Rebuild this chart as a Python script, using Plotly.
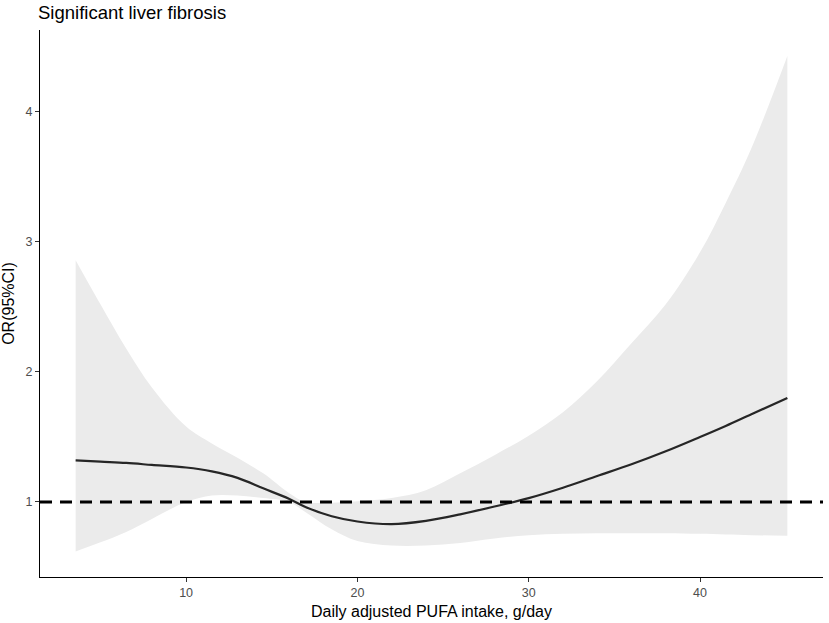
import plotly.graph_objects as go

# values (restricted cubic spline, OR with 95% CI)
pufa = [3.55, 5, 6.5, 8, 10, 11.5, 13, 14.5, 16, 17, 18.5, 20, 22, 24, 26,
        28, 30, 32, 34, 36, 38, 40, 41.5, 43, 45.1]
or_est = [1.32, 1.31, 1.30, 1.285, 1.265, 1.235, 1.185, 1.105, 1.025, 0.96, 0.89,
          0.85, 0.83, 0.855, 0.905, 0.965, 1.03, 1.11, 1.20, 1.29, 1.39, 1.50,
          1.585, 1.675, 1.80]
ci_low = [0.62, 0.69, 0.77, 0.87, 1.00, 1.05, 1.05, 1.03, 1.00, 0.92, 0.79,
          0.70, 0.665, 0.665, 0.685, 0.72, 0.745, 0.755, 0.76, 0.76, 0.76,
          0.755, 0.75, 0.745, 0.74]
ci_high = [2.86, 2.52, 2.18, 1.88, 1.58, 1.45, 1.34, 1.22, 1.07, 1.00, 0.995,
           1.005, 1.03, 1.09, 1.22, 1.36, 1.51, 1.69, 1.93, 2.22, 2.52, 2.92,
           3.30, 3.72, 4.43]

x_ticks = [10, 20, 30, 40]
y_ticks = [1, 2, 3, 4]

fig = go.Figure()

# ribbon
fig.add_trace(go.Scatter(x=pufa, y=ci_low, mode="lines",
                         line=dict(width=0, shape="spline", smoothing=1.0),
                         hoverinfo="skip", showlegend=False))
fig.add_trace(go.Scatter(x=pufa, y=ci_high, mode="lines", fill="tonexty",
                         fillcolor="#EBEBEB",
                         line=dict(width=0, shape="spline", smoothing=1.0),
                         hoverinfo="skip", showlegend=False))
# OR curve
fig.add_trace(go.Scatter(x=pufa, y=or_est, mode="lines",
                         line=dict(color="#262626", width=2.2, shape="spline", smoothing=1.0),
                         showlegend=False))

# reference line at OR = 1
fig.add_hline(y=1, line=dict(color="black", width=2.8, dash="12px,8px"))

font = "Liberation Sans, Arial, sans-serif"
fig.update_layout(
    width=829, height=623,
    margin=dict(l=38, r=6, t=30, b=46),
    paper_bgcolor="white", plot_bgcolor="white",
    font=dict(family=font, color="black"),
    title=dict(text="Significant liver fibrosis", x=38/829, xanchor="left",
               y=1 - 13/623, yanchor="middle", font=dict(size=18.5, color="black")),
    xaxis=dict(range=[1.47, 47.18], tickvals=x_ticks, showgrid=False, zeroline=False,
               showline=True, linecolor="black", linewidth=1.3,
               ticks="outside", ticklen=4, tickcolor="#333333", tickwidth=1,
               tickfont=dict(size=12.5, color="#4D4D4D"),
               title=dict(text="Daily adjusted PUFA intake, g/day", standoff=6,
                          font=dict(size=16, color="black"))),
    yaxis=dict(range=[0.423, 4.63], tickvals=y_ticks, showgrid=False, zeroline=False,
               showline=True, linecolor="black", linewidth=1.3,
               ticks="outside", ticklen=4, tickcolor="#333333", tickwidth=1,
               tickfont=dict(size=12.5, color="#4D4D4D"),
               title=dict(text="OR(95%CI)", standoff=8,
                          font=dict(size=16, color="black"))),
)

# drop the default page margin so the figure sits at the window's corner
fig.write_html("out.html", config={"displayModeBar": False},
               post_script="document.body.style.margin='0';")
